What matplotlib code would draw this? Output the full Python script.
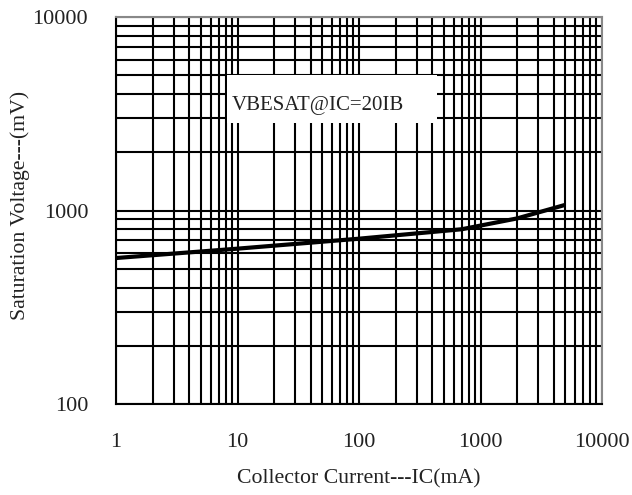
import matplotlib.pyplot as plt
import numpy as np
from matplotlib.patches import Rectangle

# collector current (mA) vs VBE(sat) (mV)
ic_ma = [1, 10, 100, 700, 2000, 5000]
vbe_mv = [568, 635, 715, 800, 910, 1070]
x_ticks = [1, 10, 100, 1000, 10000]
y_ticks = [100, 1000, 10000]

plt.rcParams['font.family'] = ['Liberation Serif', 'DejaVu Serif']

fig = plt.figure(figsize=(6.32, 4.95), dpi=100)
ax = fig.add_axes([116 / 632, 1 - 404 / 495, 486 / 632, 387 / 495])

ax.set_xscale('log')
ax.set_yscale('log')
ax.set_xlim(1, 10000)
ax.set_ylim(100, 10000)

ax.grid(True, which='both', color='black', linewidth=1.5)
ax.set_axisbelow(True)
ax.plot(ic_ma, vbe_mv, color='black', linewidth=3, solid_capstyle='butt', zorder=3)

ax.set_xticks(x_ticks)
ax.set_xticklabels([str(t) for t in x_ticks])
ax.set_yticks(y_ticks)
ax.set_yticklabels([str(t) for t in y_ticks])
ax.tick_params(which='both', length=0, labelsize=16, colors='#222222')
ax.tick_params(axis='x', pad=21)
ax.tick_params(axis='y', pad=20)

for side in ['left', 'bottom']:
    ax.spines[side].set_color('black')
    ax.spines[side].set_linewidth(1.5)
for side in ['top', 'right']:
    ax.spines[side].set_color('#888888')
    ax.spines[side].set_linewidth(1.5)

ax.add_patch(Rectangle((0.228, 0.726), 0.432, 0.124, transform=ax.transAxes,
                       facecolor='white', edgecolor='none', zorder=4))
ax.text(0.239, 0.772, 'VBESAT@IC=20IB', transform=ax.transAxes, fontsize=15,
        va='center', ha='left', color='#222222', zorder=5)

ax.set_xlabel('Collector Current---IC(mA)', fontsize=15.7, labelpad=12, color='#222222')
fig.text(20 / 632, 1 - 205 / 495, 'Saturation Voltage---(mV)', fontsize=15.7,
         rotation=90, ha='center', va='center', color='#222222')

fig.savefig('out.png', dpi=100)
